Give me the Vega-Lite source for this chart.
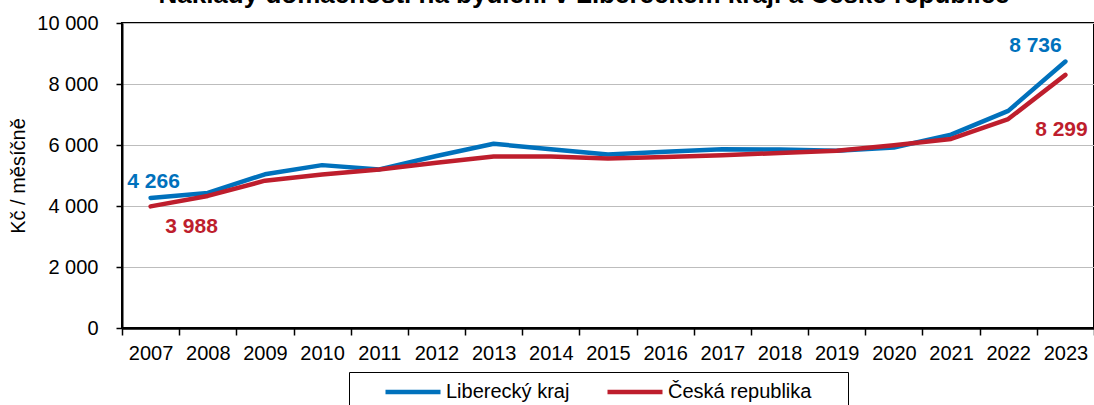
{
  "$schema": "https://vega.github.io/schema/vega-lite/v6.json",
  "width": 972,
  "height": 305,
  "autosize": {"type": "none"},
  "padding": {"left": 122, "top": 23, "right": 0, "bottom": 77},
  "config": {
    "locale": {"number": {"decimal": ",", "thousands": " ", "grouping": [3], "currency": ["", " Kč"]}},
    "font": "Liberation Sans",
    "view": {"stroke": "black", "strokeWidth": 2}
  },
  "title": {
    "text": "Náklady domácností na bydlení v Libereckém kraji a České republice",
    "fontSize": 26,
    "fontWeight": "bold",
    "font": "Liberation Sans",
    "anchor": "middle",
    "frame": "group",
    "baseline": "alphabetic",
    "offset": 0,
    "dy": 16,
    "dx": -24,
    "color": "black"
  },
  "data": {
    "values": [
      {"year": "2007", "series": "Liberecký kraj", "value": 4266},
      {"year": "2008", "series": "Liberecký kraj", "value": 4430},
      {"year": "2009", "series": "Liberecký kraj", "value": 5040},
      {"year": "2010", "series": "Liberecký kraj", "value": 5340},
      {"year": "2011", "series": "Liberecký kraj", "value": 5200},
      {"year": "2012", "series": "Liberecký kraj", "value": 5640},
      {"year": "2013", "series": "Liberecký kraj", "value": 6040},
      {"year": "2014", "series": "Liberecký kraj", "value": 5860},
      {"year": "2015", "series": "Liberecký kraj", "value": 5690},
      {"year": "2016", "series": "Liberecký kraj", "value": 5780},
      {"year": "2017", "series": "Liberecký kraj", "value": 5860},
      {"year": "2018", "series": "Liberecký kraj", "value": 5850},
      {"year": "2019", "series": "Liberecký kraj", "value": 5810},
      {"year": "2020", "series": "Liberecký kraj", "value": 5920},
      {"year": "2021", "series": "Liberecký kraj", "value": 6340},
      {"year": "2022", "series": "Liberecký kraj", "value": 7120},
      {"year": "2023", "series": "Liberecký kraj", "value": 8736},
      {"year": "2007", "series": "Česká republika", "value": 3988},
      {"year": "2008", "series": "Česká republika", "value": 4330},
      {"year": "2009", "series": "Česká republika", "value": 4830},
      {"year": "2010", "series": "Česká republika", "value": 5030},
      {"year": "2011", "series": "Česká republika", "value": 5200},
      {"year": "2012", "series": "Česká republika", "value": 5420},
      {"year": "2013", "series": "Česká republika", "value": 5620},
      {"year": "2014", "series": "Česká republika", "value": 5620},
      {"year": "2015", "series": "Česká republika", "value": 5560},
      {"year": "2016", "series": "Česká republika", "value": 5610},
      {"year": "2017", "series": "Česká republika", "value": 5660},
      {"year": "2018", "series": "Česká republika", "value": 5740},
      {"year": "2019", "series": "Česká republika", "value": 5810},
      {"year": "2020", "series": "Česká republika", "value": 5990},
      {"year": "2021", "series": "Česká republika", "value": 6200},
      {"year": "2022", "series": "Česká republika", "value": 6850},
      {"year": "2023", "series": "Česká republika", "value": 8299}
    ]
  },
  "encoding": {
    "x": {
      "field": "year",
      "type": "ordinal",
      "scale": {"type": "band", "paddingInner": 0, "paddingOuter": 0},
      "axis": {
        "title": null,
        "labelAngle": 0,
        "labelFontSize": 20,
        "labelColor": "black",
        "labelPadding": 8,
        "tickBand": "extent",
        "tickColor": "black",
        "tickWidth": 1.5,
        "tickSize": 7,
        "domainColor": "black",
        "domainWidth": 2.5,
        "grid": false
      }
    },
    "y": {
      "field": "value",
      "type": "quantitative",
      "scale": {"domain": [0, 10000], "nice": false},
      "axis": {
        "title": "Kč / měsíčně",
        "titleFontSize": 20,
        "titleFontWeight": "normal",
        "titleColor": "black",
        "titlePadding": 8,
        "values": [0, 2000, 4000, 6000, 8000, 10000],
        "format": ",d",
        "labelFontSize": 20,
        "labelColor": "black",
        "labelPadding": 18,
        "tickColor": "black",
        "tickWidth": 1.5,
        "tickSize": 6,
        "domainColor": "black",
        "domainWidth": 2,
        "gridColor": "#bdbdbd",
        "gridWidth": 1.2
      }
    }
  },
  "layer": [
    {
      "transform": [{"filter": "datum.series === 'Liberecký kraj'"}],
      "mark": {"type": "line", "strokeWidth": 4.5, "strokeCap": "round", "strokeJoin": "round"},
      "encoding": {
        "color": {
          "field": "series",
          "type": "nominal",
          "scale": {"domain": ["Liberecký kraj", "Česká republika"], "range": ["#0071BC", "#BE1E2D"]},
          "legend": {
            "title": null,
            "orient": "none",
            "legendX": 227,
            "legendY": 349,
            "direction": "horizontal",
            "strokeColor": "black",
            "padding": 8,
            "symbolType": "stroke",
            "symbolSize": 3025,
            "symbolStrokeWidth": 4.5,
            "symbolOffset": 26,
            "clipHeight": 24,
            "labelFontSize": 20,
            "labelColor": "black",
            "labelOffset": 3,
            "labelLimit": 400,
            "columnPadding": 9,
            "labelExpr": "datum.label === 'Česká republika' ? datum.label + '\u00a0\u00a0\u00a0\u00a0\u00a0\u200b' : datum.label"
          }
        }
      }
    },
    {
      "transform": [{"filter": "datum.series === 'Česká republika'"}],
      "mark": {"type": "line", "strokeWidth": 4.5, "strokeCap": "round", "strokeJoin": "round"},
      "encoding": {
        "color": {"field": "series", "type": "nominal"}
      }
    },
    {
      "transform": [{"filter": "datum.series === 'Liberecký kraj' && datum.year === '2007'"}],
      "mark": {"type": "text", "fontWeight": "bold", "fontSize": 21, "color": "#0071BC", "dx": 3, "dy": -16},
      "encoding": {"text": {"field": "value", "type": "quantitative", "format": ",d"}}
    },
    {
      "transform": [{"filter": "datum.series === 'Česká republika' && datum.year === '2007'"}],
      "mark": {"type": "text", "fontWeight": "bold", "fontSize": 21, "color": "#BE1E2D", "dx": 41, "dy": 21},
      "encoding": {"text": {"field": "value", "type": "quantitative", "format": ",d"}}
    },
    {
      "transform": [{"filter": "datum.series === 'Liberecký kraj' && datum.year === '2023'"}],
      "mark": {"type": "text", "fontWeight": "bold", "fontSize": 21, "color": "#0071BC", "dx": -30, "dy": -16},
      "encoding": {"text": {"field": "value", "type": "quantitative", "format": ",d"}}
    },
    {
      "transform": [{"filter": "datum.series === 'Česká republika' && datum.year === '2023'"}],
      "mark": {"type": "text", "fontWeight": "bold", "fontSize": 21, "color": "#BE1E2D", "dx": -4, "dy": 55},
      "encoding": {"text": {"field": "value", "type": "quantitative", "format": ",d"}}
    }
  ]
}
